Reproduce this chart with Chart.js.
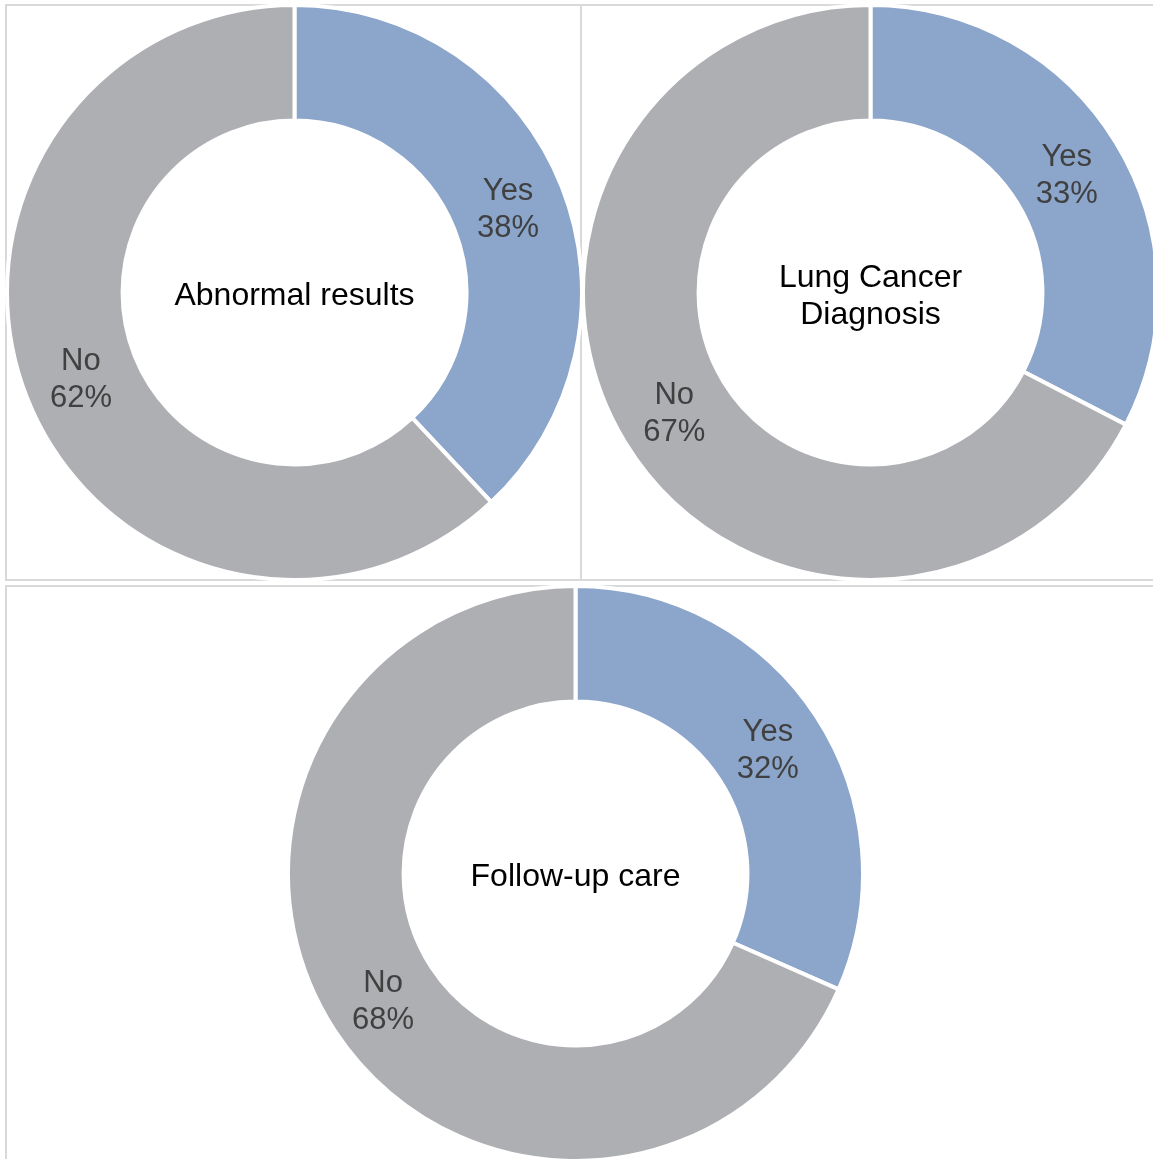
<!DOCTYPE html>
<html>
<head>
<meta charset="utf-8">
<script src="https://cdn.jsdelivr.net/npm/chart.js@4/dist/chart.umd.min.js"></script>
<style>
  html, body { margin:0; padding:0; background:#fff; overflow:hidden; width:1153px; height:1159px; }
  .panel { position:absolute; box-sizing:border-box; border:2px solid #d9d9d9; background:#fff; }
  canvas { position:absolute; }
</style>
</head>
<body>
<div class="panel" style="left:5px;top:4px;width:577px;height:577px"></div>
<div class="panel" style="left:580px;top:4px;width:620px;height:577px"></div>
<div class="panel" style="left:5px;top:585px;width:1200px;height:620px"></div>
<canvas id="c1"></canvas>
<canvas id="c2"></canvas>
<canvas id="c3"></canvas>
<script>
// Survey results, one donut per question (labels show rounded percent)
const categories = ['Yes', 'No'];
const abnormalResults = [38, 62];
const lungCancerDiagnosis = [32.6, 67.4];
const followUpCare = [31.6, 68.4];
const centerLabels = [['Abnormal results'], ['Lung Cancer', 'Diagnosis'], ['Follow-up care']];

const colors = ['#8ba5cb', '#aeafb3'];
const FONT = '"Liberation Sans", Arial, sans-serif';
const SIZE = 579;

// center points of each donut on the page
const layout = [
  { id:'c1', cx:294, cy:292, data:abnormalResults, center:centerLabels[0] },
  { id:'c2', cx:870, cy:292, data:lungCancerDiagnosis, center:centerLabels[1] },
  { id:'c3', cx:575, cy:873, data:followUpCare, center:centerLabels[2] }
];

const labelPlugin = {
  id:'donutLabels',
  afterDatasetsDraw(chart, args, opts){
    const ctx = chart.ctx;
    const meta = chart.getDatasetMeta(0);
    const ds = chart.data.datasets[0];
    ctx.save();
    ctx.textAlign = 'center';
    ctx.textBaseline = 'middle';
    ctx.fillStyle = '#404040';
    ctx.font = '31px ' + FONT;
    meta.data.forEach((arc, i)=>{
      const p = arc.getCenterPoint();
      ctx.fillText(chart.data.labels[i], p.x, p.y - 16);
      ctx.fillText(Math.round(ds.data[i]) + '%', p.x, p.y + 21);
    });
    // title in the hole
    const lines = opts.lines || [];
    const a = meta.data[0];
    ctx.fillStyle = '#000';
    ctx.font = '32px ' + FONT;
    const lh = 37;
    lines.forEach((t, k)=>{
      ctx.fillText(t, a.x, a.y + 4 + (k - (lines.length - 1) / 2) * lh);
    });
    ctx.restore();
  }
};

layout.forEach(item=>{
  const el = document.getElementById(item.id);
  el.width = SIZE; el.height = SIZE;
  el.style.width = SIZE + 'px'; el.style.height = SIZE + 'px';
  el.style.left = (item.cx - SIZE / 2) + 'px';
  el.style.top = (item.cy - SIZE / 2) + 'px';
  new Chart(el, {
    type:'doughnut',
    data:{
      labels:categories,
      datasets:[{ data:item.data, backgroundColor:colors, borderColor:'#fff', borderWidth:4 }]
    },
    options:{
      responsive:false,
      animation:false,
      cutout:'59.8%',
      layout:{ padding:0 },
      plugins:{ legend:{ display:false }, tooltip:{ enabled:false }, donutLabels:{ lines:item.center } }
    },
    plugins:[labelPlugin]
  });
});
</script>
</body>
</html>
